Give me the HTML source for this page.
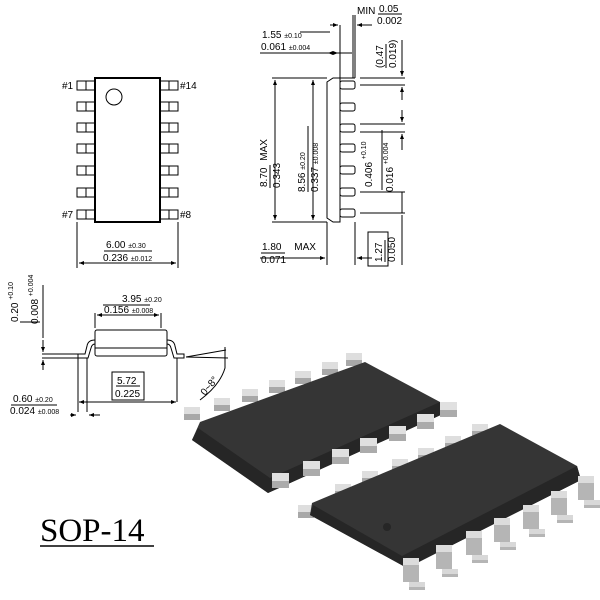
<!DOCTYPE html>
<html><head><style>
body{margin:0;background:#fff;}
svg{display:block;font-family:"Liberation Sans",Arial,sans-serif;}
</style></head><body>
<svg width="600" height="600" viewBox="0 0 600 600" xmlns="http://www.w3.org/2000/svg">
<defs>
<marker id="a" viewBox="0 0 10 10" refX="10" refY="5" markerWidth="5" markerHeight="5" orient="auto-start-reverse"><path d="M0,1 L10,5 L0,9z" fill="#000"/></marker>
<g id="bp"><rect x="0" y="0" width="16" height="7" fill="#dedede"/><rect x="0" y="7" width="16" height="6" fill="#a8a8a8"/></g>
<g id="fp"><rect x="0" y="0" width="17" height="8" fill="#e0e0e0"/><rect x="0" y="8" width="17" height="7" fill="#ababab"/></g>
<g id="gp"><path d="M0,0 h16 v24 h6 v8 h-16 v-8 h-6z" fill="#b5b5b5"/><rect x="0" y="0" width="16" height="7" fill="#dcdcdc"/><rect x="6" y="24" width="16" height="5" fill="#d8d8d8"/></g>
</defs>
<g stroke="#000" fill="none" stroke-width="1">
<rect x="95" y="78" width="65" height="144" stroke-width="2"/>
<circle cx="114" cy="97" r="8"/>
<g id="lp">
<rect x="77" y="81" width="18" height="9"/><line x1="86" y1="81" x2="86" y2="90"/>
<rect x="77" y="102" width="18" height="9"/><line x1="86" y1="102" x2="86" y2="111"/>
<rect x="77" y="123" width="18" height="9"/><line x1="86" y1="123" x2="86" y2="132"/>
<rect x="77" y="144" width="18" height="9"/><line x1="86" y1="144" x2="86" y2="153"/>
<rect x="77" y="166" width="18" height="9"/><line x1="86" y1="166" x2="86" y2="175"/>
<rect x="77" y="188" width="18" height="9"/><line x1="86" y1="188" x2="86" y2="197"/>
<rect x="77" y="210" width="18" height="9"/><line x1="86" y1="210" x2="86" y2="219"/>
</g>
<use href="#lp" transform="translate(83,0)"/>
<line x1="77" y1="222" x2="77" y2="268"/><line x1="178" y1="222" x2="178" y2="268"/>
<line x1="79" y1="263" x2="176" y2="263" marker-start="url(#a)" marker-end="url(#a)"/>
<line x1="104" y1="251" x2="152" y2="251"/>
<path d="M327,82 L333,78 L340,78 L340,222 L333,222 L327,218 Z"/>
<line x1="340" y1="78" x2="355" y2="78"/>
<g>
<rect x="340" y="81" width="15" height="8" rx="2"/><rect x="340" y="103" width="15" height="8" rx="2"/>
<rect x="340" y="124" width="15" height="8" rx="2"/><rect x="340" y="144" width="15" height="8" rx="2"/>
<rect x="340" y="166" width="15" height="8" rx="2"/><rect x="340" y="188" width="15" height="8" rx="2"/>
<rect x="340" y="209" width="15" height="8" rx="2"/>
</g>
<line x1="272" y1="78" x2="327" y2="78"/><line x1="272" y1="222" x2="327" y2="222"/>
<line x1="275" y1="80" x2="275" y2="220" marker-start="url(#a)" marker-end="url(#a)"/>
<line x1="313" y1="80" x2="313" y2="220" marker-start="url(#a)" marker-end="url(#a)"/>
<line x1="327" y1="222" x2="327" y2="265"/><line x1="355" y1="222" x2="355" y2="265"/>
<line x1="355" y1="15" x2="355" y2="78"/><line x1="353" y1="15" x2="353" y2="78"/>
<line x1="340" y1="25" x2="340" y2="78"/>
<line x1="330" y1="25" x2="338" y2="25" marker-end="url(#a)"/>
<line x1="372" y1="25" x2="357" y2="25" marker-end="url(#a)"/>
<line x1="260" y1="53" x2="338" y2="53" marker-end="url(#a)"/>
<line x1="328" y1="53" x2="352" y2="53" marker-start="url(#a)"/>
<line x1="260" y1="258" x2="325" y2="258" marker-end="url(#a)"/>
<line x1="357" y1="258" x2="372" y2="258" marker-start="url(#a)"/>
<line x1="360" y1="78" x2="405" y2="78"/><line x1="360" y1="85" x2="405" y2="85"/>
<line x1="360" y1="124" x2="405" y2="124"/><line x1="360" y1="132" x2="405" y2="132"/>
<line x1="360" y1="192" x2="405" y2="192"/><line x1="360" y1="213" x2="405" y2="213"/>
<line x1="402" y1="40" x2="402" y2="76" marker-end="url(#a)"/>
<line x1="402" y1="100" x2="402" y2="87" marker-end="url(#a)"/>
<line x1="402" y1="110" x2="402" y2="122" marker-end="url(#a)"/>
<line x1="402" y1="150" x2="402" y2="134" marker-end="url(#a)"/>
<line x1="402" y1="192" x2="402" y2="213"/>
<line x1="402" y1="215" x2="402" y2="265"/>
<line x1="300" y1="32" x2="330" y2="32"/>
<rect x="368" y="232" width="20" height="34"/>
<rect x="95" y="330" width="72" height="26" rx="2"/>
<line x1="95" y1="348" x2="167" y2="348"/>
<path d="M95,340 Q88,340 87,346 L85,354 L78,354 L78,358 L88,358 L91,348 Q92,344 95,344"/>
<path d="M167,340 Q174,340 175,346 L177,354 L184,354 L184,358 L174,358 L171,348 Q170,344 167,344"/>
<line x1="95" y1="313" x2="95" y2="328"/><line x1="161" y1="313" x2="161" y2="328"/>
<line x1="97" y1="315" x2="159" y2="315" marker-start="url(#a)" marker-end="url(#a)"/>
<line x1="103" y1="305" x2="150" y2="305"/>
<line x1="78" y1="358" x2="78" y2="412"/><line x1="87" y1="358" x2="87" y2="412"/>
<line x1="177" y1="358" x2="177" y2="402"/>
<line x1="79" y1="402" x2="176" y2="402" marker-start="url(#a)" marker-end="url(#a)"/>
<line x1="70" y1="415" x2="76" y2="415" marker-end="url(#a)"/>
<line x1="100" y1="415" x2="89" y2="415" marker-end="url(#a)"/>
<line x1="42" y1="354" x2="78" y2="354"/><line x1="42" y1="358" x2="78" y2="358"/>
<line x1="43" y1="340" x2="43" y2="352" marker-end="url(#a)"/>
<line x1="43" y1="370" x2="43" y2="360" marker-end="url(#a)"/>
<line x1="43" y1="285" x2="43" y2="338"/><line x1="20" y1="322" x2="40" y2="322"/>
<rect x="112" y="372" width="32" height="28"/><line x1="116" y1="386" x2="140" y2="386"/>
<line x1="186" y1="357" x2="228" y2="358"/><line x1="186" y1="357" x2="226" y2="350"/>
<path d="M225,347 L225,368 Q220,385 200,400" /><line x1="11" y1="405" x2="57" y2="405"/>
</g>
<g font-size="10" fill="#000">
<text x="62" y="89">#1</text><text x="180" y="89">#14</text>
<text x="62" y="218">#7</text><text x="180" y="218">#8</text>
<text x="106" y="248">6.00 <tspan font-size="7">±0.30</tspan></text>
<text x="103" y="261">0.236 <tspan font-size="7">±0.012</tspan></text>
<text x="357" y="14">MIN</text>
<text x="379" y="12">0.05</text><line x1="378" y1="14" x2="402" y2="14" stroke="#000"/><text x="377" y="24">0.002</text>
<text x="262" y="38">1.55 <tspan font-size="7">±0.10</tspan></text>
<text x="261" y="50">0.061 <tspan font-size="7">±0.004</tspan></text>
<text x="262" y="250">1.80 <tspan dx="10">MAX</tspan></text><line x1="261" y1="253" x2="285" y2="253" stroke="#000"/>
<text x="261" y="263">0.071</text>
<text x="122" y="302">3.95 <tspan font-size="7">±0.20</tspan></text>
<text x="104" y="313">0.156 <tspan font-size="7">±0.008</tspan></text>
<text x="117" y="384">5.72</text><text x="115" y="397">0.225</text>
<text x="13" y="402">0.60 <tspan font-size="7">±0.20</tspan></text>
<text x="10" y="414">0.024 <tspan font-size="7">±0.008</tspan></text>
<g transform="translate(267,187) rotate(-90)"><text x="0" y="0">8.70 <tspan dx="4">MAX</tspan></text><line x1="-1" y1="3" x2="22" y2="3" stroke="#000"/><text x="-1" y="13">0.343</text></g>
<g transform="translate(305,192) rotate(-90)"><text>8.56 <tspan font-size="7">±0.20</tspan></text><line x1="0" y1="3" x2="66" y2="3" stroke="#000"/><text y="13">0.337 <tspan font-size="7">±0.008</tspan></text></g>
<g transform="translate(383,68) rotate(-90)"><text>(0.47</text><line x1="0" y1="3" x2="24" y2="3" stroke="#000"/><text y="13">0.019)</text></g>
<g transform="translate(372,187) rotate(-90)"><text>0.406 <tspan font-size="7" dy="-6">+0.10</tspan></text></g>
<g transform="translate(393,192) rotate(-90)"><text>0.016 <tspan font-size="7" dy="-5">+0.004</tspan></text></g>
<line x1="382" y1="130" x2="382" y2="190" stroke="#000"/>
<g transform="translate(382,262) rotate(-90)"><text>1.27</text><line x1="0" y1="3" x2="22" y2="3" stroke="#000"/><text y="13">0.050</text></g>
<g transform="translate(18,322) rotate(-90)"><text>0.20 <tspan font-size="7" dy="-5">+0.10</tspan></text></g>
<g transform="translate(38,324) rotate(-90)"><text>0.008 <tspan font-size="7" dy="-5">+0.004</tspan></text></g>
<g transform="translate(205,396) rotate(-50)"><text>0~8°</text></g>
</g>
<!-- chip 1 -->
<use href="#bp" x="184" y="407"/><use href="#bp" x="214" y="398"/><use href="#bp" x="242" y="389"/>
<use href="#bp" x="269" y="380"/><use href="#bp" x="295" y="371"/><use href="#bp" x="322" y="362"/><use href="#bp" x="346" y="353"/>
<path d="M200,422 L365,362 L440,402 L443,414 L268,493 L192,440 Z" fill="#353535"/>
<path d="M192,440 L268,493 L443,414 L440,402 L270,478 L198,428 Z" fill="#262626"/>
<use href="#fp" x="272" y="473"/><use href="#fp" x="303" y="461"/><use href="#fp" x="332" y="449"/>
<use href="#fp" x="360" y="438"/><use href="#fp" x="389" y="426"/><use href="#fp" x="417" y="414"/><use href="#fp" x="440" y="402"/>
<!-- chip 2 -->
<use href="#bp" x="298" y="505"/><use href="#bp" x="335" y="484"/><use href="#bp" x="362" y="471"/>
<use href="#bp" x="392" y="459"/><use href="#bp" x="418" y="448"/><use href="#bp" x="445" y="436"/><use href="#bp" x="472" y="424"/>
<path d="M312,503 L500,424 L577,466 L581,480 L407,568 L310,515 Z" fill="#353535"/>
<path d="M310,515 L407,568 L581,480 L577,466 L402,556 L313,505 Z" fill="#262626"/>
<circle cx="387" cy="527" r="4" fill="#262626"/>
<use href="#gp" x="403" y="558"/><use href="#gp" x="436" y="545"/><use href="#gp" x="466" y="531"/>
<use href="#gp" x="494" y="518"/><use href="#gp" x="523" y="505"/><use href="#gp" x="551" y="491"/><use href="#gp" x="578" y="476"/>
<text x="40" y="541" font-family="Liberation Serif,serif" font-size="33" fill="#000">SOP-14</text>
<line x1="40" y1="546" x2="154" y2="546" stroke="#000" stroke-width="1.5"/>
</svg>
</body></html>
